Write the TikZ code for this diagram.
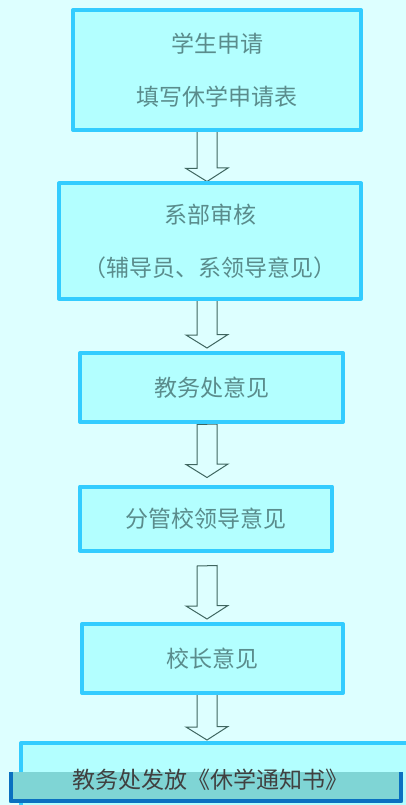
\documentclass[tikz,border=0pt]{standalone}
\usepackage{fontspec}
\newfontfamily\cjk{Noto Sans CJK SC}
\usetikzlibrary{calc, backgrounds}
\definecolor{bgcyan}{HTML}{DDFFFF}
\definecolor{boxedge}{HTML}{33CCFF}
\definecolor{boxfill}{HTML}{B3FFFF}
\definecolor{textteal}{HTML}{5A8C8C}
\definecolor{arrowedge}{HTML}{3F6660}
\definecolor{barfill}{HTML}{7FD5D5}
\definecolor{barblue}{HTML}{0A70C0}
\tikzset{
  box/.style={draw=boxedge, fill=boxfill, line width=4pt, inner sep=0pt,
    align=center, text=textteal, font=\cjk\fontsize{23}{53}\selectfont},
  flow/.style={draw=arrowedge, fill=bgcyan, line width=1pt, line join=miter},
}

\begin{document}
\begin{tikzpicture}[line cap=round,line join=round,x=1pt,y=-1pt]
\useasboundingbox (0,0) rectangle (406,805);
\clip (0,0) rectangle (406,805);

% Kaesten
\node[box, minimum width=288pt, minimum height=120pt] (s1) at (217,70) {学生申请\\填写休学申请表};
\node[box, minimum width=302pt, minimum height=115pt] (s2) at (210,241) {系部审核\\（辅导员、系领导意见）};
\node[box, minimum width=263pt, minimum height=69pt] (s3) at (211.5,387.5) {教务处意见};
\node[box, minimum width=252pt, minimum height=64pt] (s4) at (206,518.5) {分管校领导意见};
\node[box, minimum width=261pt, minimum height=69pt] (s5) at (212.5,658.5) {校长意见};
\node[box, minimum width=419pt, minimum height=74pt] (s6) at (230.5,780) {};

% Leiste unten
\fill[barfill] (9,772) rectangle (403,803);
\draw[barblue, line width=4pt, line cap=butt] (11,772) -- (11,801) -- (401,801) -- (401,772);
\node[box, draw=none, fill=none, text=black!75] (t6) at (210.5,780) {教务处发放《休学通知书》};

% Pfeile (Hintergrund)
\coordinate (axis) at (207,0);
\begin{scope}[on background layer]
\fill[bgcyan] (0,0) rectangle (406,805);
\foreach \b/\d in {s2/0,s3/-3,s4/-7,s5/-3,s6/-1}
    \draw[flow] ($(axis |- \b.north)+(-10,\d-53)$) -- ++(0,40) -- ++(-11,0) -- ($(axis |- \b.north)+(0,\d)$)
        -- ++(21,-13.5) -- ++(-11,0) -- ++(0,-40) -- cycle;
\end{scope}
\end{tikzpicture}
\end{document}
